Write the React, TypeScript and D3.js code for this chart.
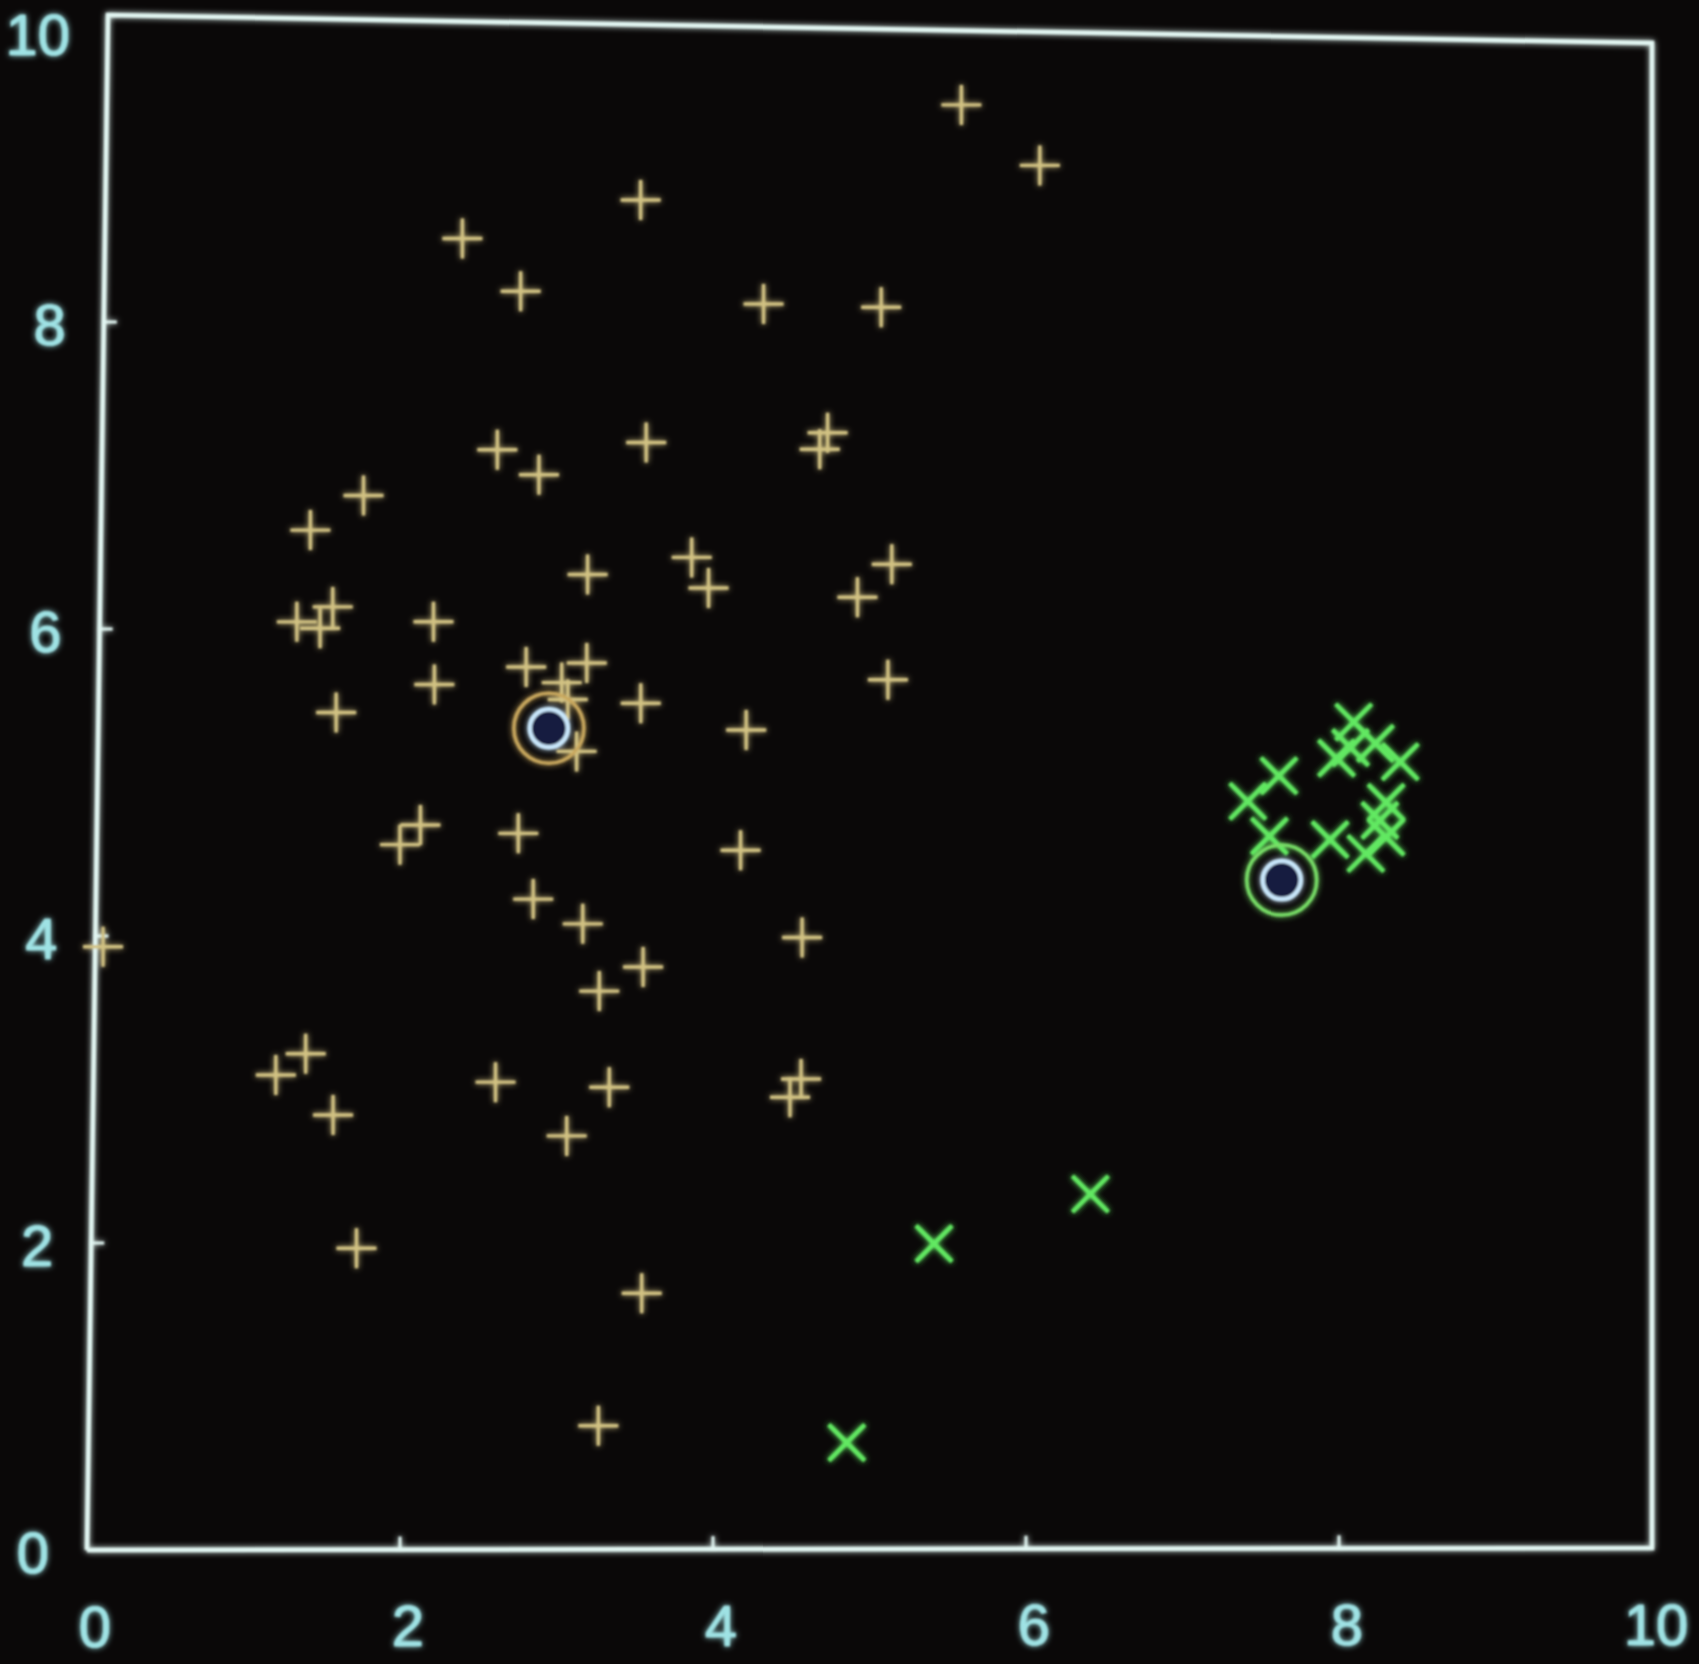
import React from "react";
import * as d3 from "d3";

// Axis ticks (both axes run 0..10)
const xTicks = [0, 2, 4, 6, 8, 10];
const yTicks = [0, 2, 4, 6, 8, 10];

// Cluster 1 members ("+" markers)
const clusterAX = [
  5.53, 6.04, 3.46, 2.31, 2.69, 4.26, 5.02, 2.55, 3.51, 2.82, 4.68, 4.63,
  1.69, 1.35, 3.14, 3.81, 3.92, 5.10, 4.88, 5.08, 1.27, 1.50, 1.42, 2.15,
  2.16, 1.53, 2.75, 3.14, 2.98, 3.02, 3.49, 3.08, 4.17, 2.08, 1.95, 2.71,
  4.14, 2.81, 3.13, 3.52, 3.24, 1.36, 1.17, 1.54, 2.58, 3.31, 3.04, 4.54,
  4.54, 4.47, 1.70, 3.53, 3.26, 0.05,
];
const clusterAY = [
  9.51, 9.12, 8.85, 8.58, 8.24, 8.18, 8.17, 7.20, 7.26, 7.04, 7.34, 7.23,
  6.89, 6.66, 6.39, 6.51, 6.31, 6.48, 6.26, 5.72, 6.06, 6.16, 6.02, 6.07,
  5.66, 5.47, 5.78, 5.81, 5.68, 5.57, 5.55, 5.23, 5.38, 4.74, 4.61, 4.69,
  4.59, 4.26, 4.10, 3.82, 3.66, 3.24, 3.10, 2.84, 3.06, 3.03, 2.71, 4.02,
  3.09, 2.97, 1.97, 1.68, 0.81, 3.93,
];

// Cluster 2 members ("x" markers)
const clusterBX = [
  8.08, 8.38, 7.97, 8.06, 7.60, 7.40, 7.54, 7.93, 8.29, 8.25, 8.16, 8.29,
  8.22, 6.40, 5.40, 4.85,
];
const clusterBY = [
  5.47, 5.21, 5.23, 5.30, 5.11, 4.94, 4.71, 4.69, 4.94, 4.82, 4.60, 4.71,
  5.33, 2.34, 2.01, 0.70,
];

// Cluster centres
const centreX = [2.9, 7.62];
const centreY = [5.38, 4.42];
const centreRing = ["#c9a85e", "#78de68"];

const sx = d3.scaleLinear().domain([0, 10]).range([0, 1]);
const sy = d3.scaleLinear().domain([0, 10]).range([0, 1]);

// Corners of the plotting frame on screen (slightly keystoned display)
const BL = [87, 1550];
const BR = [1652, 1548];
const TL = [108, 15];
const TR = [1652, 43];

function project(x: number, y: number): [number, number] {
  const s = sx(x);
  const t = sy(y);
  const a = (1 - s) * (1 - t);
  const b = s * (1 - t);
  const c = (1 - s) * t;
  const d = s * t;
  return [
    a * BL[0] + b * BR[0] + c * TL[0] + d * TR[0],
    a * BL[1] + b * BR[1] + c * TL[1] + d * TR[1],
  ];
}

const FRAME = "#e2f6f2";
const LABEL = "#9fe2e4";
const TAN = "#d2c283";
const GREEN = "#62e862";

export default function App() {
  const frame = d3.line()([
    project(0, 0),
    project(10, 0),
    project(10, 10),
    project(0, 10),
    project(0, 0),
  ]);

  const tanPts = clusterAX.map((x, i) => project(x, clusterAY[i]));
  const greenPts = clusterBX.map((x, i) => project(x, clusterBY[i]));
  const centres = centreX.map((x, i) => project(x, centreY[i]));

  const plus = "M-20,0H20M0,-20V20";
  const cross = "M-18,-18L18,18M-18,18L18,-18";

  return (
    <svg
      width={1699}
      height={1664}
      style={{ position: "absolute", left: 0, top: 0, background: "#0a0808" }}
    >
      <defs>
        <filter id="glow" x="-10%" y="-10%" width="120%" height="120%">
          <feGaussianBlur in="SourceGraphic" stdDeviation="3" result="halo" />
          <feGaussianBlur in="SourceGraphic" stdDeviation="0.8" result="soft" />
          <feMerge>
            <feMergeNode in="halo" />
            <feMergeNode in="soft" />
          </feMerge>
        </filter>
      </defs>
      <rect width={1699} height={1664} fill="#0a0808" />
      <g filter="url(#glow)">
        <path d={frame || ""} fill="none" stroke={FRAME} strokeWidth={4.5} />
        {xTicks.slice(1, -1).map((v) => {
          const [px, py] = project(v, 0);
          return (
            <line key={"xt" + v} x1={px} x2={px} y1={py} y2={py - 13}
              stroke={FRAME} strokeWidth={3} />
          );
        })}
        {yTicks.slice(1, -1).map((v) => {
          const [px, py] = project(0, v);
          return (
            <line key={"yt" + v} x1={px} x2={px + 13} y1={py} y2={py}
              stroke={FRAME} strokeWidth={3} />
          );
        })}
        {xTicks.map((v) => {
          const [px, py] = project(v, 0);
          return (
            <text key={"xl" + v} x={v === 10 ? px + 4 : px + 8} y={py + 76}
              textAnchor="middle" dominantBaseline="central"
              fontFamily="Liberation Sans, Arial, sans-serif"
              fontSize={58} fill={LABEL} stroke={LABEL} strokeWidth={0.6}>
              {v}
            </text>
          );
        })}
        {yTicks.map((v) => {
          const [px, py] = project(0, v);
          return (
            <text key={"yl" + v} x={px - 38} y={v === 10 ? py + 19 : py + 2}
              textAnchor="end" dominantBaseline="central"
              fontFamily="Liberation Sans, Arial, sans-serif"
              fontSize={58} fill={LABEL} stroke={LABEL} strokeWidth={0.6}>
              {v}
            </text>
          );
        })}
        {tanPts.map(([px, py], i) => (
          <path key={"a" + i} d={plus} transform={`translate(${px},${py})`}
            stroke={TAN} strokeWidth={3.4} fill="none" />
        ))}
        {greenPts.map(([px, py], i) => (
          <path key={"b" + i} d={cross} transform={`translate(${px},${py})`}
            stroke={GREEN} strokeWidth={4.4} fill="none" />
        ))}
        {centres.map(([px, py], i) => (
          <g key={"c" + i} transform={`translate(${px},${py})`}>
            <circle r={35} fill="none" stroke={centreRing[i]} strokeWidth={3.5} />
            <circle r={19} fill="#141a40" stroke="#c8e6fa" strokeWidth={4.5} />
          </g>
        ))}
      </g>
    </svg>
  );
}
